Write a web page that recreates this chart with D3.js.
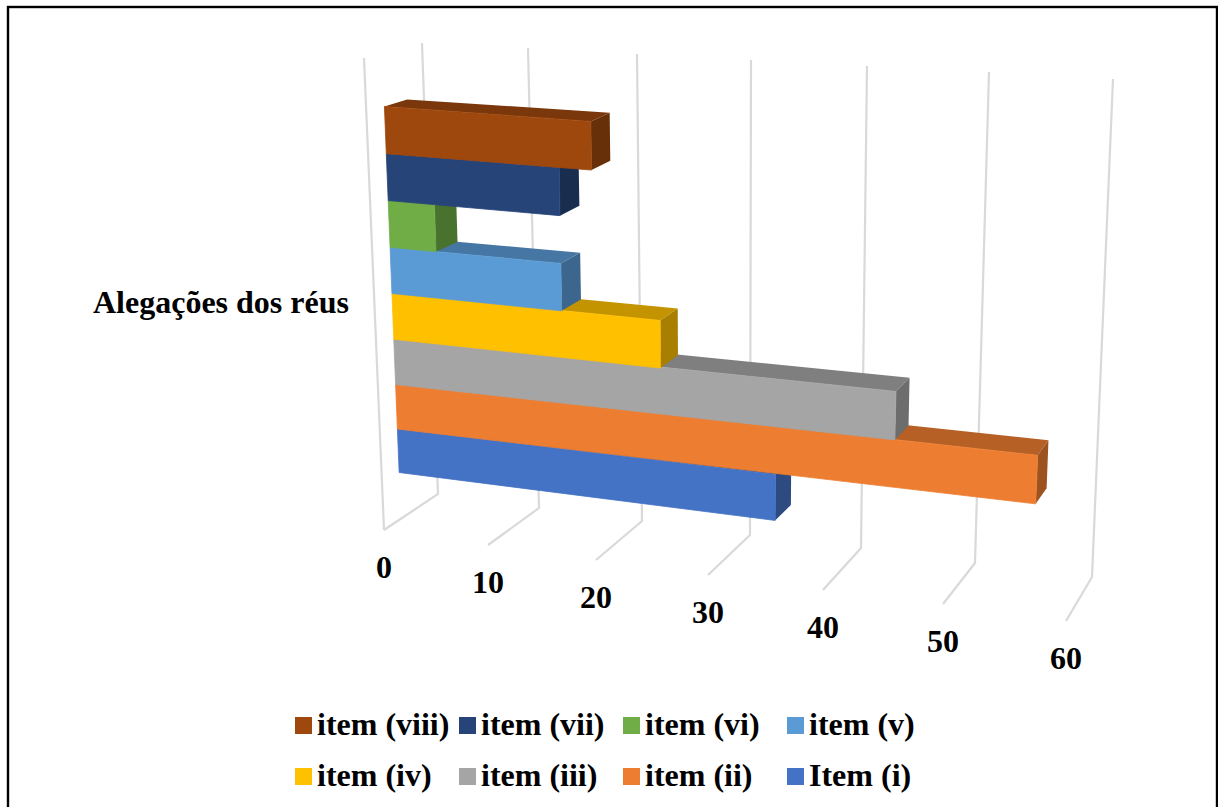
<!DOCTYPE html>
<html>
<head>
<meta charset="utf-8">
<script src="https://cdnjs.cloudflare.com/ajax/libs/d3/7.8.5/d3.min.js"></script>
<style>
  html, body { margin: 0; padding: 0; background: #fff; overflow: hidden; }
  text { font-family: "Liberation Serif", serif; font-weight: bold; fill: #000; }
</style>
</head>
<body>
<svg id="chart" width="1218" height="807"></svg>
<script>
// Series, bottom of the stack first
const seriesNames  = ["Item (i)", "item (ii)", "item (iii)", "item (iv)", "item (v)", "item (vi)", "item (vii)", "item (viii)"];
const seriesValues = [34.7, 56.5, 44.8, 24.6, 15.8, 4.3, 15.8, 18.7];
const seriesColors = ["#4472c4", "#ed7d31", "#a5a5a5", "#ffc000", "#5b9bd5", "#70ad47", "#264478", "#9e480e"];
const legendOrder  = ["item (viii)", "item (vii)", "item (vi)", "item (v)", "item (iv)", "item (iii)", "item (ii)", "Item (i)"];
const axisTicks    = [0, 10, 20, 30, 40, 50, 60];
const categoryLabel = "Alegações dos réus";

// Projected wall and floor edges of the 3D box, one scale per edge and screen axis
const edge = range => d3.scaleLinear().domain(axisTicks).range(range);
const frontBottomX = edge([384, 488, 596, 708, 823, 943, 1066]);
const frontBottomY = edge([530, 545, 560, 575, 590, 604, 621]);
const backBottomX  = edge([438, 539, 642, 750, 861, 975, 1092]);
const backBottomY  = edge([494, 508, 521, 535, 548, 563, 577]);
const backTopX     = edge([422, 528, 637, 751, 867, 989, 1113]);
const backTopY     = edge([43, 48, 54, 60, 66, 72, 79]);
const frontTopX    = edge([364, 475, 590, 709, 831, 959, 1090]);
const frontTopY    = edge([58, 66, 74, 81, 89, 96, 106]);

const depthScale  = d3.scaleLinear().domain([0, 1]).range([0.315, 0.71]);
const stackScale  = d3.scaleBand().domain(seriesNames).range([0.1107, 0.891]);
const heightScale = d3.scalePow().exponent(1.05).domain([0, 1]).range([0, 1]);

const mix = d3.interpolateNumber;
function project(value, level, depth) {
  const d = depthScale(depth), h = heightScale(level);
  const xBottom = mix(frontBottomX(value), backBottomX(value))(d);
  const yBottom = mix(frontBottomY(value), backBottomY(value))(d);
  const xTop    = mix(frontTopX(value), backTopX(value))(d);
  const yTop    = mix(frontTopY(value), backTopY(value))(d);
  return [mix(xBottom, xTop)(h), mix(yBottom, yTop)(h)];
}

const shade = (color, k) => {
  const c = d3.rgb(color);
  return d3.rgb(c.r * k, c.g * k, c.b * k).formatHex();
};

const svg = d3.select("#chart");

// Outer frame; its lower edge falls outside the page
svg.append("rect")
  .attr("x", 8).attr("y", 7)
  .attr("width", 1209).attr("height", 830)
  .attr("fill", "#fff").attr("stroke", "#000").attr("stroke-width", 2.4);

// Gridlines on the back wall and floor
const grid = svg.append("g").attr("stroke", "#d9d9d9").attr("stroke-width", 2.2).attr("fill", "none");
const gridPath = d3.line();
axisTicks.forEach(t => {
  grid.append("path").attr("d", gridPath([
    [backTopX(t), backTopY(t)],
    [backBottomX(t), backBottomY(t)],
    [frontBottomX(t), frontBottomY(t)]
  ]));
});
grid.append("path").attr("d", gridPath([
  [frontTopX(0), frontTopY(0)],
  [frontBottomX(0), frontBottomY(0)]
]));

// Bars, painted upward so each one sits over the top face of the one below
const polygon = pts => d3.line()(pts) + "Z";
const bars = svg.selectAll("g.bar")
  .data(seriesNames.map((name, i) => ({ name, value: seriesValues[i], color: seriesColors[i] })))
  .join("g").attr("class", "bar");

bars.each(function (d) {
  const g = d3.select(this);
  const lo = stackScale(d.name), hi = lo + stackScale.bandwidth();
  g.append("path")
    .attr("fill", shade(d.color, 0.77))
    .attr("d", polygon([project(0, hi, 0), project(d.value, hi, 0), project(d.value, hi, 1), project(0, hi, 1)]));
  g.append("path")
    .attr("fill", shade(d.color, 0.66))
    .attr("d", polygon([project(d.value, lo, 0), project(d.value, hi, 0), project(d.value, hi, 1), project(d.value, lo, 1)]));
  // The thin same-colour stroke closes the hairline seam against the neighbouring bar
  g.append("path")
    .attr("fill", d.color)
    .attr("stroke", d.color)
    .attr("stroke-width", 0.8)
    .attr("d", polygon([project(0, lo, 0), project(d.value, lo, 0), project(d.value, hi, 0), project(0, hi, 0)]));
});

// Value axis labels below the front edge of the floor
svg.selectAll("text.tick")
  .data(axisTicks)
  .join("text")
  .attr("class", "tick")
  .attr("x", t => frontBottomX(t))
  .attr("y", t => frontBottomY(t) + 48)
  .attr("text-anchor", "middle")
  .attr("font-size", 32)
  .text(t => t);

// Category label
svg.append("text")
  .attr("x", 93).attr("y", 313)
  .attr("font-size", 32)
  .text(categoryLabel);

// Legend, two rows of four
const legendX = d3.scalePoint().domain([0, 1, 2, 3]).range([295, 787]);
const legendY = d3.scalePoint().domain([0, 1]).range([717, 768]);
const colorOf = d3.scaleOrdinal().domain(seriesNames).range(seriesColors);
const legend = svg.selectAll("g.key")
  .data(legendOrder)
  .join("g").attr("class", "key")
  .attr("transform", (d, i) => `translate(${legendX(i % 4)},${legendY(Math.floor(i / 4))})`);
legend.append("rect").attr("width", 17).attr("height", 17).attr("fill", d => colorOf(d));
legend.append("text").attr("x", 22).attr("y", 18).attr("font-size", 32).text(d => d);
</script>
</body>
</html>
